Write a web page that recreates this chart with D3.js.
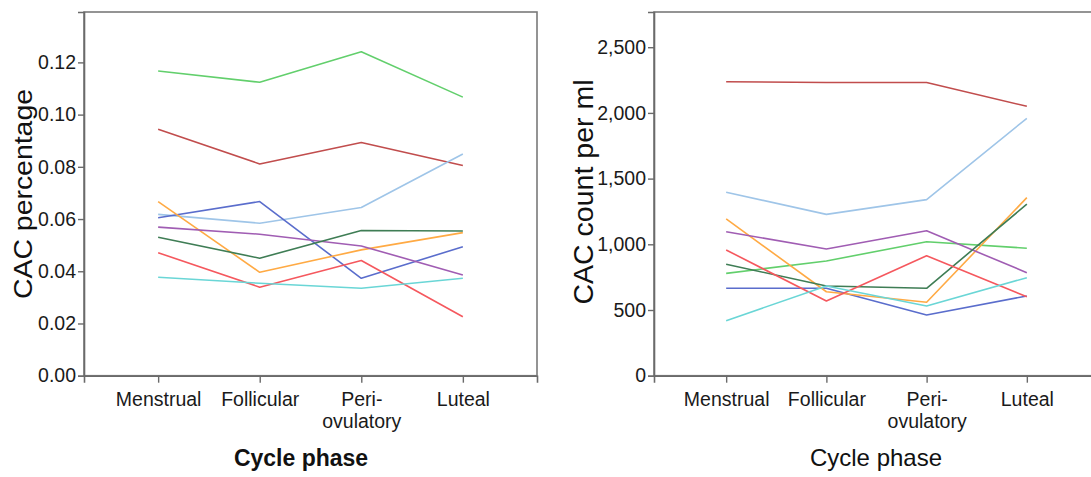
<!DOCTYPE html>
<html>
<head>
<meta charset="utf-8">
<script src="https://cdn.jsdelivr.net/npm/d3@7"></script>
<style>
  html, body { margin: 0; padding: 0; background: #fff; }
  svg { display: block; font-family: "Liberation Sans", Arial, sans-serif; }
</style>
</head>
<body>
<svg id="chart" width="1091" height="477"></svg>
<script>
// ---- data ----
const categories = ["Menstrual", "Follicular", "Peri-ovulatory", "Luteal"];
const seriesNames = ["S1", "S2", "S3", "S4", "S5", "S6", "S7", "S8", "S9"];
const seriesColors = ["#62cf6c", "#c14d4d", "#9fc5e8", "#5a6dcc", "#ffaa44", "#a05db3", "#3f7d55", "#f5585e", "#6ad6d6"];

// CAC percentage (left chart), one array per series
const pctLightGreen = [0.1167, 0.1124, 0.1241, 0.1067];
const pctDarkRed    = [0.0944, 0.0811, 0.0893, 0.0805];
const pctLightBlue  = [0.0618, 0.0584, 0.0644, 0.0849];
const pctBlue       = [0.0605, 0.0667, 0.0373, 0.0494];
const pctOrange     = [0.0667, 0.0396, 0.0482, 0.0548];
const pctPurple     = [0.0569, 0.0542, 0.0497, 0.0386];
const pctDarkGreen  = [0.0530, 0.0450, 0.0556, 0.0554];
const pctRed        = [0.0471, 0.0339, 0.0441, 0.0226];
const pctCyan       = [0.0377, 0.0354, 0.0335, 0.0373];

// CAC count per ml (right chart)
const cntLightGreen = [779, 873, 1020, 970];
const cntDarkRed    = [2237, 2232, 2232, 2050];
const cntLightBlue  = [1396, 1228, 1340, 1959];
const cntBlue       = [665, 665, 462, 607];
const cntOrange     = [1193, 639, 559, 1355];
const cntPurple     = [1096, 964, 1103, 784];
const cntDarkGreen  = [848, 683, 665, 1305];
const cntRed        = [957, 568, 913, 601];
const cntCyan       = [419, 683, 530, 746];

const pctTicks = [0, 0.02, 0.04, 0.06, 0.08, 0.10, 0.12];
const cntTicks = [0, 500, 1000, 1500, 2000, 2500];

const pctSeries = [pctLightGreen, pctDarkRed, pctLightBlue, pctBlue, pctOrange, pctPurple, pctDarkGreen, pctRed, pctCyan];
const cntSeries = [cntLightGreen, cntDarkRed, cntLightBlue, cntBlue, cntOrange, cntPurple, cntDarkGreen, cntRed, cntCyan];

// ---- drawing ----
const svg = d3.select("#chart");

function panel(opts) {
  const g = svg.append("g");
  const x = d3.scalePoint().domain(categories).range([opts.left, opts.right]).padding(opts.pad);
  const y = d3.scaleLinear().domain([0, opts.ymax]).range([opts.bottom, opts.top]);

  // frame
  g.append("rect")
    .attr("x", opts.left).attr("y", opts.top)
    .attr("width", opts.right - opts.left).attr("height", opts.bottom - opts.top)
    .attr("fill", "none").attr("stroke", "#7a7a7a").attr("stroke-width", 1.6);

  // y axis
  const yAxis = d3.axisLeft(y).tickValues(opts.ticks).tickFormat(opts.fmt).tickSize(6).tickPadding(2);
  const ya = g.append("g").attr("transform", `translate(${opts.left},0)`).call(yAxis);
  ya.select(".domain").attr("stroke", "#6a6a6a").attr("stroke-width", 1.6);
  ya.selectAll(".tick line").attr("stroke", "#6a6a6a").attr("stroke-width", 1.4);
  ya.selectAll(".tick text").attr("font-size", opts.tickFont).attr("fill", "#1a1a1a")
    .attr("font-family", "Liberation Sans, Arial, sans-serif");

  // x axis
  const xAxis = d3.axisBottom(x).tickSize(7).tickPadding(3).tickFormat(() => "");
  const xa = g.append("g").attr("transform", `translate(0,${opts.bottom})`).call(xAxis);
  xa.select(".domain").attr("stroke", "#6a6a6a").attr("stroke-width", 1.6);
  xa.selectAll(".tick line").attr("stroke", "#6a6a6a").attr("stroke-width", 1.4);
  xa.selectAll(".tick").each(function(d) {
    const t = d3.select(this).select("text");
    t.text(null).attr("font-size", opts.tickFont).attr("fill", "#1a1a1a")
      .attr("font-family", "Liberation Sans, Arial, sans-serif").attr("y", 0).attr("dy", null);
    const parts = d.includes("-") ? [d.split("-")[0] + "-", d.split("-")[1]] : [d];
    parts.forEach((p, i) => {
      t.append("tspan").attr("x", 0).attr("y", 30 + i * 22).text(p);
    });
  });

  // lines
  const line = d3.line().x((d, i) => x(categories[i])).y(d => y(d));
  g.append("g").selectAll("path").data(opts.series).join("path")
    .attr("d", d => line(d))
    .attr("fill", "none")
    .attr("stroke", (d, i) => seriesColors[i])
    .attr("stroke-width", 1.6)
    .attr("stroke-linejoin", "round");

  // titles
  g.append("text")
    .attr("transform", `translate(${opts.ytitleX},${opts.ytitleY}) rotate(-90)`)
    .attr("text-anchor", "middle").attr("font-size", opts.ytitleFont).attr("fill", "#111")
    .attr("textLength", opts.ytitleLen).attr("lengthAdjust", "spacingAndGlyphs")
    .text(opts.ytitle);
  g.append("text")
    .attr("x", opts.xtitleX).attr("y", 466)
    .attr("text-anchor", "middle").attr("font-size", opts.xtitleFont)
    .attr("font-weight", opts.xtitleBold ? "bold" : "normal").attr("fill", "#111")
    .text("Cycle phase");
}

panel({
  left: 84, right: 537, top: 12, bottom: 375.7, pad: 0.73,
  ymax: 0.1393, ticks: pctTicks, fmt: d3.format(".2f"),
  series: pctSeries, tickFont: 19.5,
  ytitle: "CAC percentage", ytitleX: 32, ytitleY: 194, ytitleFont: 26, ytitleLen: 210,
  xtitleX: 301, xtitleFont: 23, xtitleBold: true
});

panel({
  left: 654, right: 1099, top: 12, bottom: 375.7, pad: 0.72,
  ymax: 2768, ticks: cntTicks, fmt: d3.format(","),
  series: cntSeries, tickFont: 19.5,
  ytitle: "CAC count per ml", ytitleX: 593, ytitleY: 192, ytitleFont: 27, ytitleLen: 225,
  xtitleX: 876, xtitleFont: 24, xtitleBold: false
});
</script>
</body>
</html>
